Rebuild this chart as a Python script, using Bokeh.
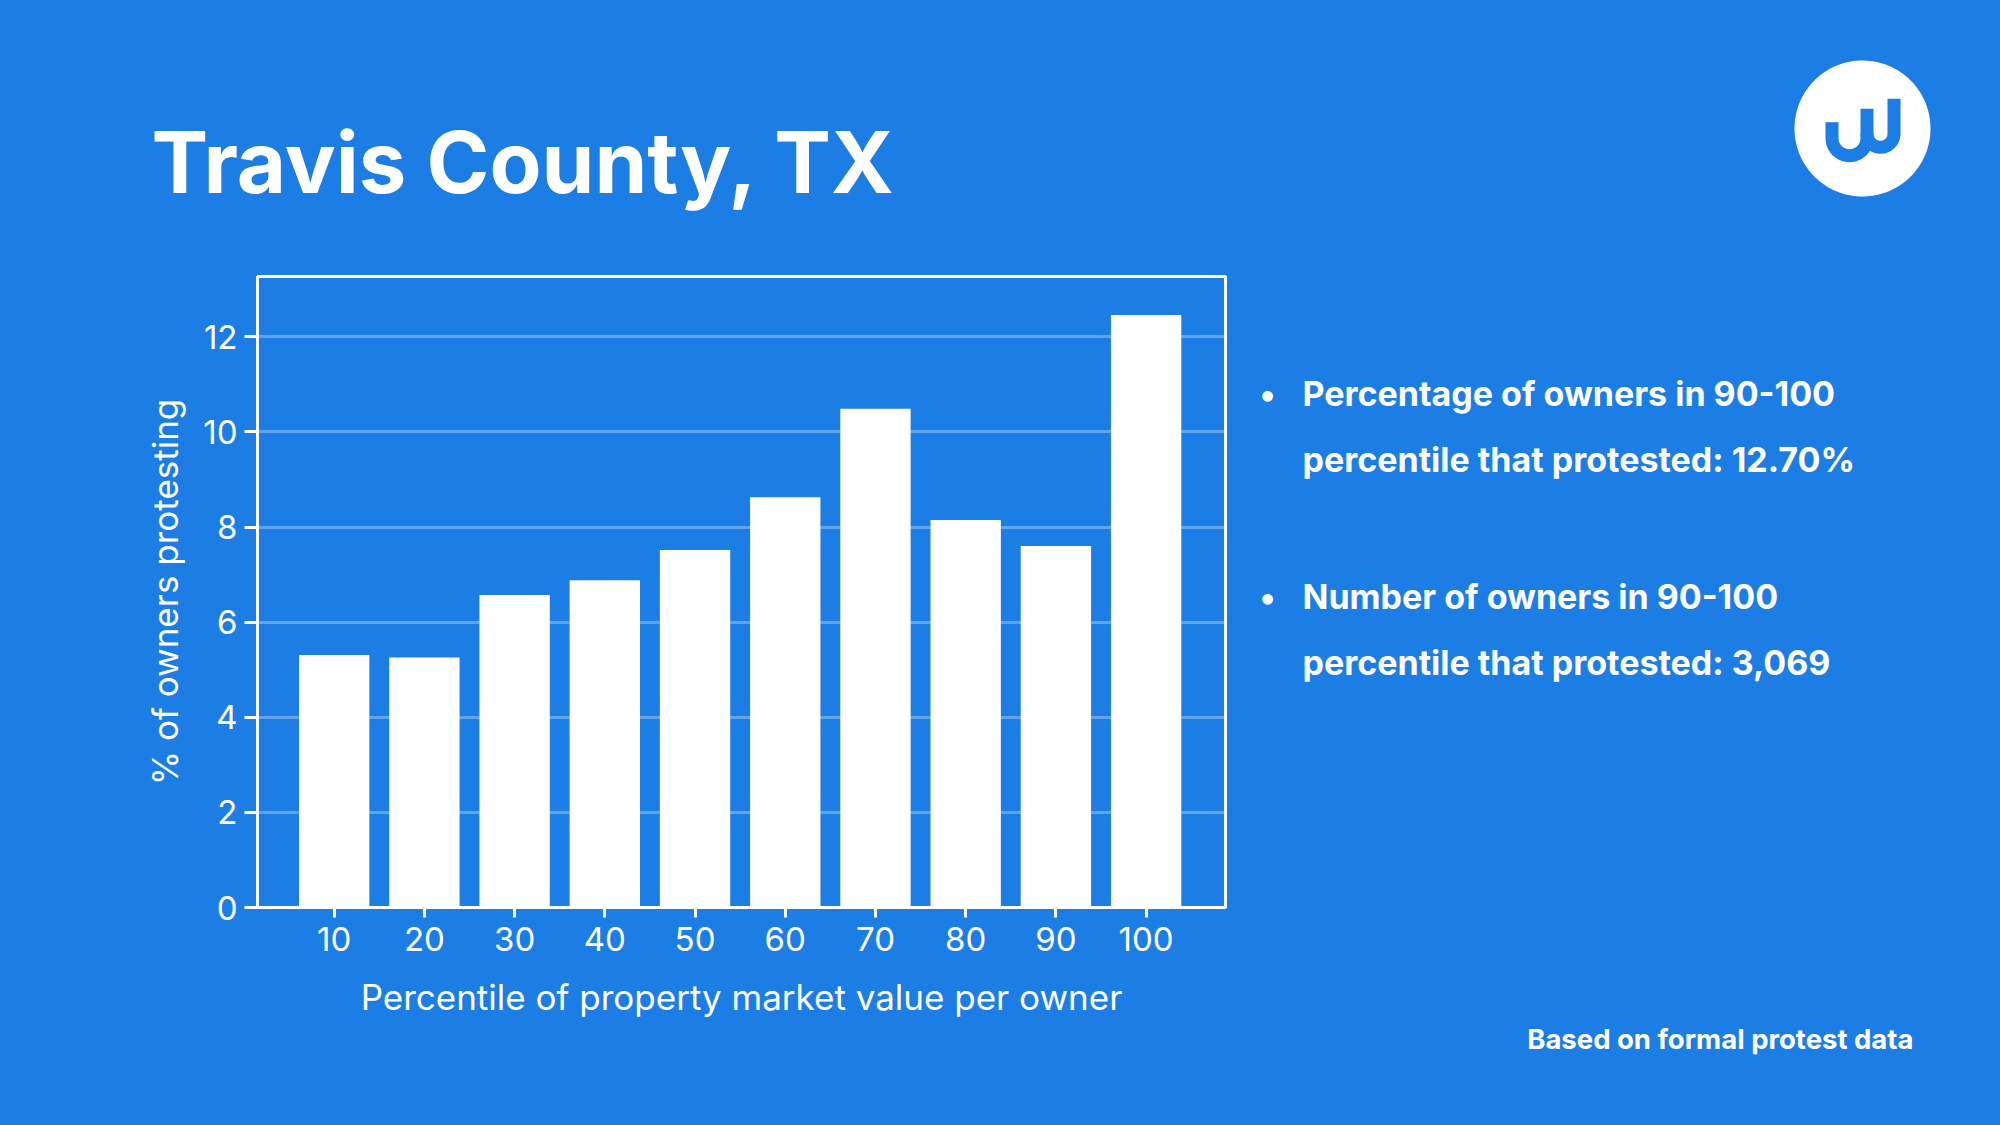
import numpy as np
from bokeh.plotting import figure
from bokeh.layouts import column, row
from bokeh.models import Range1d, Label, FixedTicker
from bokeh.embed import file_html
from bokeh.resources import INLINE

# ---- data ----
percentiles = [10, 20, 30, 40, 50, 60, 70, 80, 90, 100]
pct_protesting = [5.31, 5.26, 6.57, 6.88, 7.52, 8.63, 10.49, 8.15, 7.60, 12.46]
y_ticks = [0, 2, 4, 6, 8, 10, 12]
title_text = "Travis County, TX"
x_label = "Percentile of property market value per owner"
y_label = "% of owners protesting"
bullet_lines = [
    ["Percentage of owners in 90-100", "percentile that protested: 12.70%"],
    ["Number of owners in 90-100", "percentile that protested: 3,069"],
]
footer_text = "Based on formal protest data"

# ---- layout constants ----
BG = "#1c7de5"
FONT = "Inter"
W, H = 2000, 1125
TOP_H = 245
CHART_W = 1240
MID_H = H - TOP_H
RIGHT_W = W - CHART_W


def blank(w, h):
    f = figure(width=w, height=h, x_range=Range1d(0, w), y_range=Range1d(h, 0),
               output_backend="svg", toolbar_location=None, title=None, min_border=0,
               x_axis_location=None, y_axis_location=None, frame_align=False,
               background_fill_color=BG, border_fill_color=BG, outline_line_color=None,
               styles={"background-color": BG})
    for g in f.grid:
        g.visible = False
    return f


# ---- top strip: title + logo ----
top = blank(W, TOP_H)
top.add_layout(Label(x=151, y=162, text=title_text, text_color="white",
                     text_font=FONT, text_font_size="85px", text_font_style="bold",
                     text_baseline="alphabetic", text_align="left"))

th = np.linspace(0, 2 * np.pi, 160)
top.patch(list(1862 + 68 * np.cos(th)), list(128 + 68 * np.sin(th)),
          fill_color="white", line_color=None)


def rect_patch(f, x0, x1, y0, y1):
    f.patch([x0, x1, x1, x0], [y0, y0, y1, y1], fill_color=BG, line_color=None)


def half_ring(f, cx, cy, ro, ri):
    a = np.linspace(0, np.pi, 60)
    xs = list(cx + ro * np.cos(a)) + list(cx + ri * np.cos(a[::-1]))
    ys = list(cy + ro * np.sin(a)) + list(cy + ri * np.sin(a[::-1]))
    f.patch(xs, ys, fill_color=BG, line_color=None)


cy1, cy2 = 137.7, 133.3
rect_patch(top, 1825, 1838, 121.7, cy1 + 0.5)
rect_patch(top, 1860, 1873, 108.3, cy1 + 0.5)
rect_patch(top, 1887, 1900, 98.3, cy2 + 0.5)
half_ring(top, 1849, cy1, 24, 11)
half_ring(top, 1880, cy2, 20, 7)

# ---- chart ----
FL, FR = 257, 1225          # frame left/right (page px)
FT, FB = 276 - TOP_H, 907 - TOP_H

p = figure(width=CHART_W, height=MID_H, x_range=Range1d(1.5, 108.8), y_range=Range1d(0, 13.27),
           output_backend="svg", toolbar_location=None, title=None, frame_align=False,
           min_border_left=FL, min_border_right=CHART_W - FR,
           min_border_top=FT, min_border_bottom=MID_H - FB,
           background_fill_color=BG, border_fill_color=BG, styles={"background-color": BG})

p.vbar(x=percentiles, top=pct_protesting, width=7.8, fill_color="white", line_color=None)

p.xaxis.ticker = FixedTicker(ticks=percentiles)
p.yaxis.ticker = FixedTicker(ticks=y_ticks)
p.xgrid.visible = False
p.ygrid.grid_line_color = "white"
p.ygrid.grid_line_alpha = 0.3
p.ygrid.grid_line_width = 3
p.outline_line_color = "white"
p.outline_line_width = 3

for ax in (p.xaxis[0], p.yaxis[0]):
    ax.axis_line_color = "white"
    ax.axis_line_width = 3
    ax.major_tick_line_color = "white"
    ax.major_tick_line_width = 3
    ax.major_tick_in = 0
    ax.minor_tick_line_color = None
    ax.major_label_text_color = "white"
    ax.major_label_text_font = FONT
    ax.major_label_text_font_size = "33px"
    ax.axis_label_text_color = "white"
    ax.axis_label_text_font = FONT
    ax.axis_label_text_font_size = "35px"
    ax.axis_label_text_font_style = "normal"

p.yaxis.major_tick_out = 13
p.xaxis.major_tick_out = 10
p.yaxis.major_label_standoff = 7
p.xaxis.major_label_standoff = 9
p.yaxis.axis_label = y_label
p.xaxis.axis_label = x_label
p.yaxis.axis_label_standoff = 14
p.xaxis.axis_label_standoff = 22

# ---- right panel: bullets + footer ----
right = blank(RIGHT_W, MID_H)
baselines = [[393, 459], [596, 662]]
for lines, bls in zip(bullet_lines, baselines):
    right.add_layout(Label(x=1259 - CHART_W, y=bls[0] - TOP_H, text="\u2022", text_color="white",
                           text_font=FONT, text_font_size="34px", text_font_style="bold",
                           text_baseline="alphabetic"))
    for t, b in zip(lines, bls):
        right.add_layout(Label(x=1302 - CHART_W, y=b - TOP_H, text=t, text_color="white",
                               text_font=FONT, text_font_size="34px", text_font_style="bold",
                               text_baseline="alphabetic"))

right.add_layout(Label(x=1913 - CHART_W, y=1038 - TOP_H, text=footer_text, text_color="white",
                       text_font=FONT, text_font_size="27.5px", text_font_style="bold",
                       text_baseline="alphabetic", text_align="right"))

layout = column(top, row(p, right, spacing=0, styles={"background-color": BG}),
                spacing=0, styles={"background-color": BG})

open("out.html", "w").write(file_html(layout, INLINE))
